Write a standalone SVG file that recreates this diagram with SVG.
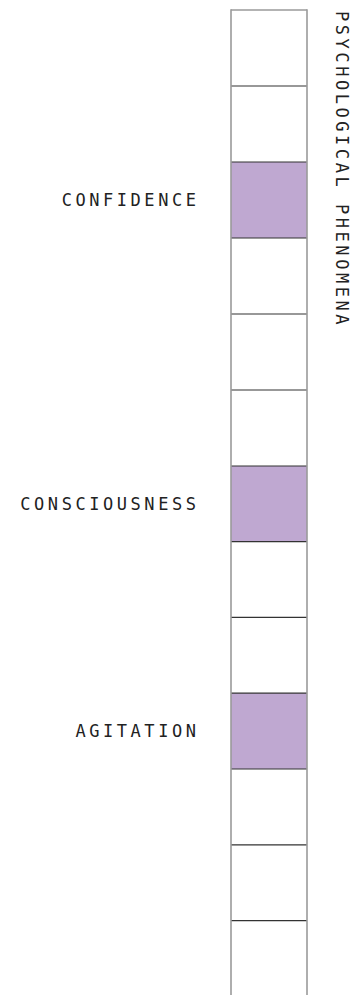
<svg xmlns="http://www.w3.org/2000/svg" width="357" height="995" viewBox="0 0 357 995">
<style>
.cell{fill:#ffffff;stroke:none}
.hi{fill:#bfa8d1;stroke:none}
.sep{stroke:#333333;stroke-width:1.2}
.side{stroke:#9a9a9a;stroke-width:1.6}
.lbl{font-family:"DejaVu Sans Mono","Liberation Mono",monospace;font-size:17px;letter-spacing:3.55px;fill:#222222;dominant-baseline:central}
</style>
<rect width="357" height="995" fill="#ffffff"/>
<g id="cells">
<g id="cell1"><rect class="cell" x="231" y="10" width="76" height="76"/></g>
<g id="cell2"><rect class="cell" x="231" y="86" width="76" height="76"/></g>
<g id="cell3"><rect class="hi" x="231" y="162" width="76" height="76"/></g>
<g id="cell4"><rect class="cell" x="231" y="238" width="76" height="76"/></g>
<g id="cell5"><rect class="cell" x="231" y="314" width="76" height="76"/></g>
<g id="cell6"><rect class="cell" x="231" y="390" width="76" height="76"/></g>
<g id="cell7"><rect class="hi" x="231" y="466" width="76" height="75.6"/></g>
<g id="cell8"><rect class="cell" x="231" y="541.6" width="76" height="75.8"/></g>
<g id="cell9"><rect class="cell" x="231" y="617.4" width="76" height="75.8"/></g>
<g id="cell10"><rect class="hi" x="231" y="693.2" width="76" height="75.8"/></g>
<g id="cell11"><rect class="cell" x="231" y="769" width="76" height="75.8"/></g>
<g id="cell12"><rect class="cell" x="231" y="844.8" width="76" height="75.8"/></g>
<g id="cell13"><rect class="cell" x="231" y="920.6" width="76" height="74.4"/></g>
</g>
<g id="lines">
<line class="side" x1="231" y1="10" x2="307" y2="10"/>
<line class="sep" x1="231" y1="86" x2="307" y2="86"/>
<line class="sep" x1="231" y1="162" x2="307" y2="162"/>
<line class="sep" x1="231" y1="238" x2="307" y2="238"/>
<line class="sep" x1="231" y1="314" x2="307" y2="314"/>
<line class="sep" x1="231" y1="390" x2="307" y2="390"/>
<line class="sep" x1="231" y1="466" x2="307" y2="466"/>
<line class="sep" x1="231" y1="541.6" x2="307" y2="541.6"/>
<line class="sep" x1="231" y1="617.4" x2="307" y2="617.4"/>
<line class="sep" x1="231" y1="693.2" x2="307" y2="693.2"/>
<line class="sep" x1="231" y1="769" x2="307" y2="769"/>
<line class="sep" x1="231" y1="844.8" x2="307" y2="844.8"/>
<line class="sep" x1="231" y1="920.6" x2="307" y2="920.6"/>
<line class="side" x1="231" y1="9.2" x2="231" y2="995"/>
<line class="side" x1="307" y1="9.2" x2="307" y2="995"/>
</g>
<g id="labels">
<text id="lbl-confidence" class="lbl" x="199.5" y="200" text-anchor="end">CONFIDENCE</text>
<text id="lbl-consciousness" class="lbl" x="199.5" y="504" text-anchor="end">CONSCIOUSNESS</text>
<text id="lbl-agitation" class="lbl" x="199.5" y="731" text-anchor="end">AGITATION</text>
<text id="title" class="lbl" transform="translate(342,11) rotate(90)" x="0" y="0">PSYCHOLOGICAL PHENOMENA</text>
</g>
</svg>
